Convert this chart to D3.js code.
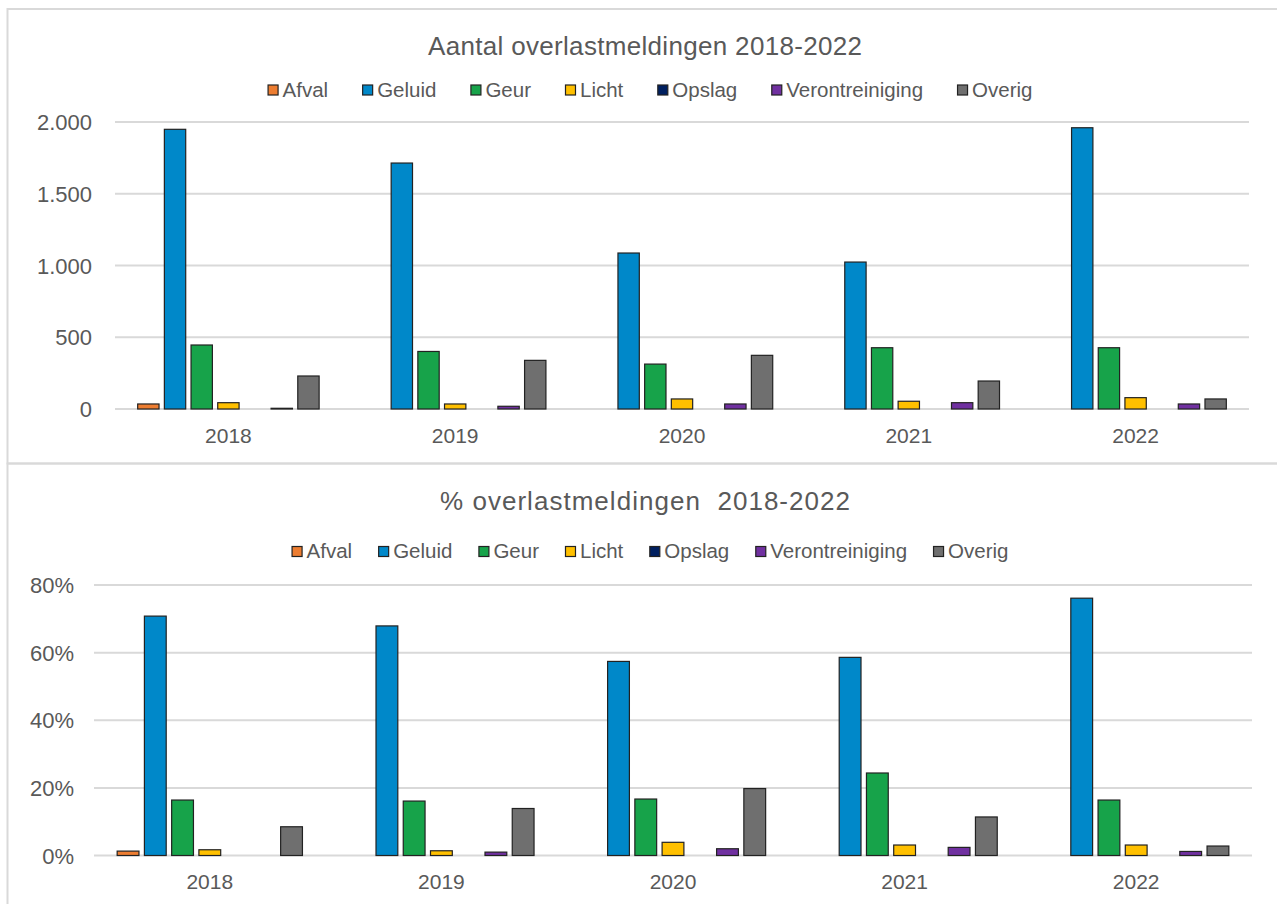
<!DOCTYPE html>
<html>
<head>
<meta charset="utf-8">
<title>Overlastmeldingen 2018-2022</title>
<script src="https://cdn.jsdelivr.net/npm/d3@7"></script>
<style>
body { margin:0; background:#fff; font-family:"Liberation Sans", Arial, sans-serif; }
text { fill:#595959; }
.grid line { stroke:#d9d9d9; stroke-width:2px; }
.bar { stroke:#222; stroke-width:1.2px; }
</style>
</head>
<body>
<svg id=chart width=1277 height=904></svg>
<script>
// data
var years = ["2018","2019","2020","2021","2022"]
var series = ["Afval","Geluid","Geur","Licht","Opslag","Verontreiniging","Overig"]
var colors = ["#ed7d31","#0088c9","#17a34a","#ffc000","#002060","#7030a0","#6f6f6f"]

// aantal meldingen
var afval  = [35, 0, 0, 0, 0]
var geluid = [1949, 1714, 1087, 1024, 1960]
var geur   = [446, 401, 313, 427, 427]
var licht  = [44, 35, 70, 54, 79]
var opslag = [0, 0, 0, 0, 0]
var veront = [5, 19, 35, 44, 35]
var overig = [230, 339, 374, 195, 70]
var countTicks = [0, 500, 1000, 1500, 2000]

// percentage meldingen
var afvalPct  = [1.3, 0, 0, 0, 0]
var geluidPct = [70.8, 67.9, 57.4, 58.6, 76.1]
var geurPct   = [16.4, 16.1, 16.7, 24.4, 16.4]
var lichtPct  = [1.7, 1.4, 3.9, 3.1, 3.1]
var opslagPct = [0, 0, 0, 0, 0]
var verontPct = [0, 1.0, 2.0, 2.4, 1.2]
var overigPct = [8.5, 13.9, 19.8, 11.4, 2.8]
var pctTicks = [0, 20, 40, 60, 80]

var nl = d3.formatLocale({decimal:",", thousands:".", grouping:[3], currency:["€",""]})

var svg = d3.select("#chart")

// chart frames
svg.append("rect").attr("x",7.5).attr("y",9).attr("width",1300).attr("height",454.5)
   .attr("fill","none").attr("stroke","#d9d9d9").attr("stroke-width",2)
svg.append("rect").attr("x",7.5).attr("y",463.5).attr("width",1300).attr("height",460)
   .attr("fill","none").attr("stroke","#d9d9d9").attr("stroke-width",2)

function drawChart(cfg)
{
  var g = svg.append("g")

  var x0 = d3.scaleBand().domain(years).range([cfg.left, cfg.right])
      .paddingInner(0.2).paddingOuter(0.1)
  var x1 = d3.scaleBand().domain(series).range([0, x0.bandwidth()])
      .paddingInner(0.2).paddingOuter(0)
  var y = d3.scaleLinear().domain([0, cfg.max]).range([cfg.bottom, cfg.top])

  // gridlines
  g.append("g").attr("class","grid")
    .selectAll("line").data(cfg.ticks).enter().append("line")
    .attr("x1", cfg.left).attr("x2", cfg.right)
    .attr("y1", function(d){ return y(d) }).attr("y2", function(d){ return y(d) })

  // y labels
  g.append("g").selectAll("text").data(cfg.ticks).enter().append("text")
    .attr("x", cfg.left - cfg.labelGap)
    .attr("y", function(d){ return y(d) + 8 })
    .attr("text-anchor","end")
    .style("font-size","22px")
    .text(cfg.fmt)

  // x labels
  g.append("g").selectAll("text").data(years).enter().append("text")
    .attr("x", function(d){ return x0(d) + x0.bandwidth()/2 })
    .attr("y", cfg.bottom + cfg.yearDy)
    .attr("text-anchor","middle")
    .style("font-size","21px")
    .text(function(d){ return d })

  // bars, one group per series
  cfg.values.forEach(function(vals, si){
    var pts = vals.map(function(v, i){ return {year: years[i], v: v} })
                  .filter(function(d){ return d.v > 0 })
    g.append("g").selectAll("rect").data(pts).enter().append("rect")
      .attr("class","bar")
      .attr("fill", colors[si])
      .attr("x", function(d){ return x0(d.year) + x1(series[si]) })
      .attr("width", x1.bandwidth())
      .attr("y", function(d){ return y(d.v) })
      .attr("height", function(d){ return cfg.bottom - y(d.v) })
  })

  // title
  g.append("text").attr("x", 645).attr("y", cfg.titleY)
    .attr("text-anchor","middle").style("font-size","26px")
    .style("white-space","pre")
    .attr("textLength", cfg.titleWidth).attr("lengthAdjust","spacing")
    .text(cfg.title)

  // legend
  var leg = g.append("g")
  var xx = 0
  series.forEach(function(s, i){
    leg.append("rect").attr("x", xx + 0.5).attr("y", -11.5).attr("width",10).attr("height",10)
      .attr("fill", colors[i]).attr("stroke","#222").attr("stroke-width",1.2)
    var t = leg.append("text").attr("x", xx + 15).attr("y", 0)
      .style("font-size","20.5px").text(s)
    xx += 15 + t.node().getComputedTextLength() + cfg.legendGap
  })
  xx -= cfg.legendGap
  leg.attr("transform","translate(" + (650 - xx/2) + "," + cfg.legendY + ")")
}

drawChart({
  title: "Aantal overlastmeldingen 2018-2022", titleWidth: 434,
  titleY: 55, legendY: 96.5, legendGap: 34,
  left: 115, right: 1249, top: 122, bottom: 409,
  max: 2000, ticks: countTicks, labelGap: 23, yearDy: 34,
  fmt: nl.format(","),
  values: [afval, geluid, geur, licht, opslag, veront, overig]
})

drawChart({
  title: "% overlastmeldingen  2018-2022", titleWidth: 410,
  titleY: 510, legendY: 558, legendGap: 26,
  left: 94, right: 1252, top: 585, bottom: 855.5,
  max: 80, ticks: pctTicks, labelGap: 20, yearDy: 33,
  fmt: function(d){ return d + "%" },
  values: [afvalPct, geluidPct, geurPct, lichtPct, opslagPct, verontPct, overigPct]
})
</script>
</body>
</html>
